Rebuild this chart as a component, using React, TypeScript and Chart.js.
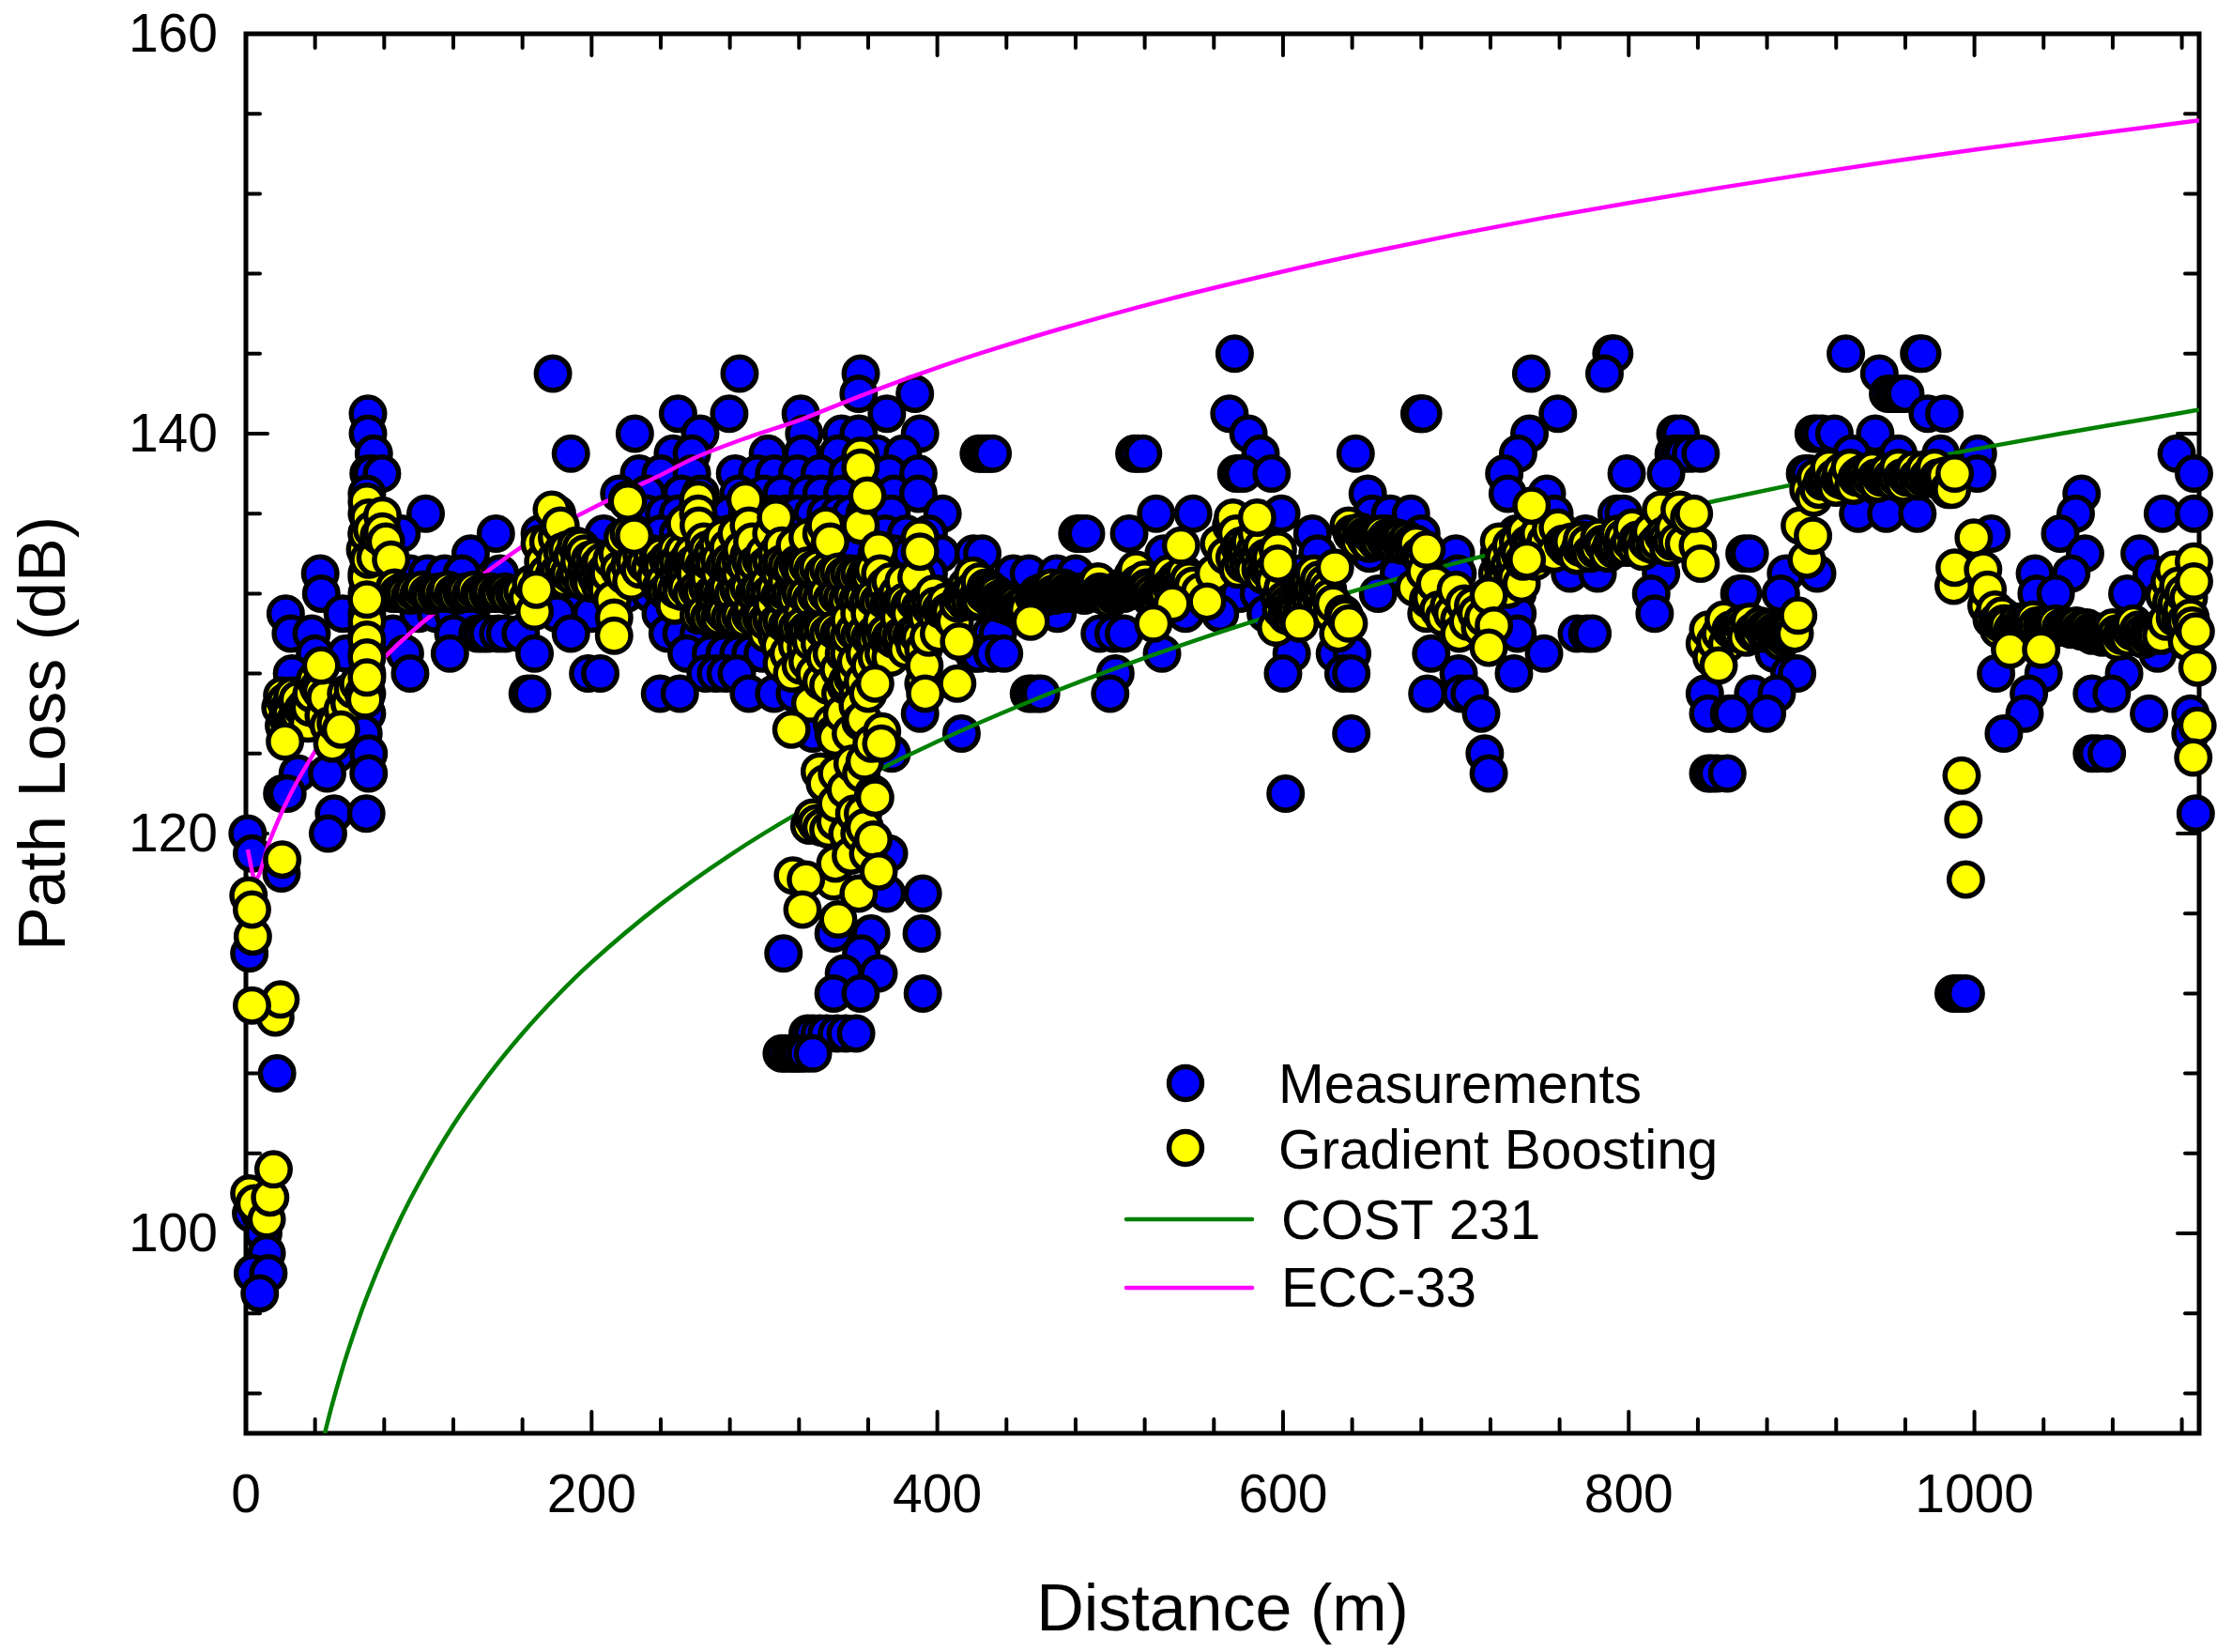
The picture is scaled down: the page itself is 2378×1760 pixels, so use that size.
import React, { useEffect, useRef } from "react";
import { Chart, registerables } from "chart.js";

Chart.register(...registerables);

const FONT = '"Liberation Sans", Arial, sans-serif';

// Measurements: loss level (dB) and the distances (m) measured at that level
const measuredLoss = [144,143,142,141,140,139,138,137,136,135,134,133,132,131,130,129,128,127,126,125,124,123,122,121,120,119,118,117,115,114,113,112,110,109,108,101,100,99,98,97];
const measuredDistances = [
  [572,790,791.6,925.6,968,969.8],
  [177.6,285.6,355.7,743.6,786,945],
  [354.5,387,950,953,955,958,960],
  [70.6,250,279.6,321,370.8,569,679,680,681,759,973,982.6],
  [70.6,225,262.8,323,344.6,354.5,390,580,742.6,827,830,907,909,912,919,942.6],
  [74,188,247,258,302,322,342.6,365,380,424,426,428,430,432,514,516,519,587,642,736,826,829,832,836,841.6,929,956,980.5,1002,1117],
  [71,73,78.7,227.5,240,258,283,296,305.6,319,332,348,360,372,389,573,575,577,593.4,728,798.8,821.6,902,904.6,1001.6,1127],
  [70,216,232,252,263,285,300,310,325,333,345,360,375,389,649,730,752.6,1062],
  [70,104,180,232,242,250,260,270,280,290,298,305,312,319,328,335.5,343,350,358,366,373.5,403,526.6,548,599,651.5,662,674,757,793,797,932.7,949,967,1058.6,1109,1127],
  [70,90,144.6,170,207,225,240,250,260,270,280,290,300,315,330,343,355,370,382,395,481,483,486,511,617,640,660,680,735,775,1009.8,1049.6],
  [70,130,235,245,255,265,275,285,295,305,315,327,340,352,365,375,385,402,421,426,531,620,650,700,725,750,867,870,1064,1095.6],
  [43,70,85,95,105,115,125,147,230,250,270,290,310,330,350,370,395,444,453,469,480,590,610,667,701,766,782,818.7,891,909,1035,1056,1102.6],
  [43.6,70,85,87,89,91,93,95,97,99,101,103,105,107,109,111,113,115,117,119,121,123,125,127,129,131,133,135,137,139,141,143,145,147,149,151,153,155,157,160,180,190,210,220,234,245,260,275,290,305,320,335,350,365,380,400,569,575,586,655,735.6,813,864,866,888,1036,1047,1088.5],
  [23,56,70,100,110,120,130,180,200,240,250,265,285,305,325,345,365,385,405,469.5,543.6,563.5,590,735.6,815],
  [26,38,70,85,120,134,137,140,146,150,159,188,244,252,262,275,283,292,431,435,494,502,508,735.6,770,776,779],
  [40,58,70,92,118,167,255,269,277,285,292,299,315,421,424,432,438.6,530,605,630,640,685.7,751,884,1106],
  [26.7,70,95,198,205,266,272,277.6,284,503,600,635,639.5,701.6,733.6,893,897.4,1012.5,1040,1086.6],
  [70,163,165.6,239.6,251,291,305.6,317.6,453,455,458,460,500,683.5,703,708,844,872,885.6,1031.5,1068,1079.4],
  [70,390,714.6,846,858,860,880,1029,1101,1125],
  [68,328,414,639.5,1017,1125],
  [53,71,373.6,716.7,1068,1071,1076.6],
  [30,47,71,340,719,846,848,851,857],
  [21,24,601.5],
  [51,69.6,1128],
  [1,47.5],
  [3.5,372],
  [20.6],
  [370.8,391.6],
  [340,361.7,391],
  [2,311,356],
  [346,366],
  [340,355.6,391.6,988,990,992,995],
  [325,328,332,336,342,347,353],
  [310,312,315,317,319,321,324,328],
  [18],
  [3,8],
  [10],
  [12],
  [4,13],
  [8],
];

// Gradient Boosting predictions: [distance, path loss]
const boostingNearField = [
  [2,102],[5,101.5],[12,100.7],[14,101.8],[17,110.8],[1.5,116.9],
  [21,126.9],[20,126.3],[23,126.6],[24,125.8],[22,125.4],[26,126],[28,125.6],[29,125.5],[31,125.9],[33,126.2],[35,126.4],[37,126.3],[42,127.3],[40,127.7],[43.5,127.1],[45,125.9],[48,125.4],[50,124.5],[52,125.5],[58,127],[60,126.5],[46,126.8],[38,127],[36,125.5],[30,126.7],[27,126.9],[25,126.3],[56,126.2],[62,127.2],[65,127.5],
  [70,136.6],[71,135.8],[70,135],[69,134.2],[71,133.7],[70,132.8],[70,130.6],[70,129.7],[70,128.8],[68,127],[69,126.7],
  [79,135.9],[79,135.1],[81,134.6],[84,133.7],[77,134.9],[75,133.8],[73,135.2],
];
const boostingFlatBand = [
  [86,132.3],[88,132],[90,132.1],[92,132],[95,131.9],[97,132.1],[100,132],[102,132.2],[105,132],[107,131.9],[110,132],[112,132.1],[115,132],[117,132.2],[120,132],[122,131.9],[125,132],[127,132.1],[130,132],[132,132.2],[135,132],[137,131.9],[140,132],[142,132.1],[145,132],[147,132],[150,132.1],[152,131.9],[155,132],[157,132],[160,132.1],[163,131.8],[165,132.5],[167,131.1],
];
const boostingCluster170 = [
  [170,134.5],[172,133.6],[174,133],[177,136.2],[179,133.7],[180,134.8],[182,135.4],[184,133.2],[186,134.2],[189,133.9],[191,134.4],[193,133.6],[195,132.6],[197,133.2],[199,133.7],[201,133.2],[203,132.8],[205,132.4],[208,133.1],[210,133],[211.6,133.7],[212,131.7],[213,130.8],[215,134],[218,134.8],[220.6,136.7],[221.5,135],
  [171,132.8],[175,134.6],[178,132.9],[181,133.1],[183,134.1],[185,132.7],[187,133],[190,132.8],[192,133],[194,134.3],[196,134],[198,132.7],[200,132.5],[202,133.8],[204,133.4],[206,133.6],[207,132.6],[209,132.2],[216,133.2],[219,132.9],[222,133.4],[223,132.6],
];
const boostingCluster225 = [
  [225,133.6],[228,133.2],[231,133.5],[234,133.3],[237,132.8],[239.6,133.4],[242,132.6],[246,132.1],[248,131.4],[250,133],[252,132.5],[254,135.5],[255,133.2],[258,134],[260,133],[261.7,136.7],[261.7,136],[262,135.4],[263,132],[265,134.6],[266,133.5],[268,132.8],[270,134],[272,131.8],[274,133],[275,131.2],[276,134.8],[278,132.2],[280,133.3],[282,131.6],[284,135],[286,133],[288,132],[289,136.7],[291,133.9],[291,135.4],[293,131.3],[294,133],[296,132.2],[299,130.9],[300,134],[302,132.5],[304,135],[305,131.5],[306.7,135.8],[307,129.9],[309,133],[310,128.5],[311,131.8],[313,132.6],[315,130.4],[317.6,134.4],[318,132],[320,133.3],[322,131],[324,129.3],[325,134.8],[326.5,126.5],[328,133],[330,130.2],[332,129.5],[333,135],[333,127.6],[334,132.5],[335.5,135.4],
];
const boostingCore = [
  [229,133.9],[235,134],[240,133.9],[245,133.7],[249,134.2],[253,134.1],[257,133.5],[267,134.2],[273,134.5],[279,134.3],[287,134.2],[293,134.6],[307,134],[310,134.4],[338,134.6],[363,133.2],[367,133],[373,132.6],
  [301,130],[309,129.4],[314,129],[316,128],[319,129.4],[321,128.4],[323,130],[325,128.6],[327,129.6],[329,128],[335,128.8],[337,127.4],[339,129],[343,128.2],[345,129.8],[347,127.4],[349,129],[351,127.8],[354,127],[357,127.6],[361,128.4],[365,128.8],[369,129],[373,128.8],[379,129.6],[387,129.4],[395,129.8],[401,130],
];
// Dark middle of the cloud: three tightly packed runs of predictions
const boostingCoreUpper = [
  [238,133.6],[241,133.4],[244,133.7],[247,133.5],[250,133.6],[253,133.4],[256,133.7],[259,133.5],[262,133.7],[265,133.4],[268,133.6],[271,133.5],[274,133.7],[277,133.4],[280,133.6],[283,133.5],[286,133.7],[289,133.4],[292,133.6],[295,133.5],[298,133.7],[301,133.4],[304,133.6],[307,133.3],[310,133.5],[313,133.4],[316,133.3],[319,133.5],[322,133.2],[325,133.4],[328,133.2],[331,133.3],[334,133],[337,133.2],[340,133],[343,133.1],[346,132.9],[349,133],[352,132.9],[355,133],[358,132.8],[361,132.9],
];
const boostingCoreMiddle = [
  [240,132.3],[243,132.1],[246,132.4],[249,132.2],[252,132.1],[255,132.3],[258,132],[261,132.2],[264,132.1],[267,132.3],[270,132],[273,132.2],[276,132.1],[279,132.3],[282,132],[285,132.2],[288,132.1],[291,132.3],[294,132],[297,132.2],[300,132.1],[303,132],[306,132.2],[309,131.9],[312,132.1],[315,132],[318,131.8],[321,132],[324,131.9],[327,131.7],[330,131.9],[333,131.8],[336,132],[339,131.7],[342,131.9],[345,131.8],[348,131.7],[351,131.9],[354,131.7],[357,131.8],[360,131.6],[363,131.8],[366,131.6],[369,131.7],[372,131.5],[375,131.7],[378,131.5],[381,131.6],[384,131.4],[387,131.6],[390,131.3],[393,131.5],[396,131.3],[399,131.4],[402,131.2],[405,131.3],[408,130.8],
];
const boostingCoreLower = [
  [262,130.9],[265,131],[268,130.8],[271,130.9],[274,130.8],[277,131],[280,130.8],[283,130.8],[286,130.9],[289,130.7],[292,130.9],[295,130.7],[298,130.8],[301,130.6],[304,130.7],[307,130.5],[310,130.6],[313,130.4],[316,130.5],[319,130.3],[322,130.4],[325,130.2],[328,130.3],[331,130.1],[334,130.2],[337,130],[340,130.2],[343,130],[346,130.1],[349,129.9],[352,130.1],[355,129.9],[358,130],[361,129.8],[364,130],[367,129.9],[370,130],[373,129.8],[376,130],[379,129.9],[382,130],[385,129.9],[388,130],
];
const boostingColumn350 = [
  [316.5,117.9],[326,120.4],[328,120.8],[330,120.5],[332,123.1],[333,120.3],[335,122.5],[337,120.2],[339,125.5],[340,125],[340,117.6],[341,124.8],[341,118.5],[341,120.6],[341.5,121.5],[342,123],[344,127],[345,126],[346,129],[347,122.2],[348,127.6],[348,120],[349,130.7],[350,125],[350,118.9],[351,123.5],[352,128],[352,121],[353,128.6],[354,126.4],[354.5,117],[355,131],[355,120],[355.6,125.6],[355.6,135.4],[355.6,138.9],[356,123],[357,125.7],[357,121],[358,123.6],[358,120.3],[358,129],[359,133],[360,127],[360,119],[361,131],[362,124.5],[363,122],
];
const boostingCluster365 = [
  [364,129.7],[366,134.2],[368,125.1],[368,130.6],[370,132.4],[372,129.6],[374,131.5],[375,129.7],[377,132],[378,130.8],[380,131.5],[380.6,132.6],[382,129.2],[384,131],[386,130],[388,132.8],[390,129.8],[392,131],[392,129.2],[392.5,128.4],[392,127.5],[393,127],[394,130.8],[396,131.7],[398,132],[390,134.8],[400,130.8],[403,131.2],[405,131.6],[406,131.1],[408,131.1],[410,130.6],[415,132],[417,132.4],[420.6,132.9],[423,131.8],[424.6,132.6],[428,132.3],[429.5,132.3],[431,132.1],[433,131.8],[436,131.5],[438,131.7],[441,131.5],[443,131.3],[446,131.2],[449,131],[451,131.5],
  [412,131.5],[414,131.8],[416,131.6],[418,132],[419,131.6],[421,132.2],[422,131.6],[425,131.7],[427,132],[430,131.8],[432,132],[434,132],[435,131.7],[437,131.8],[439,131.6],[440,131.4],[442,131.5],[444,131.4],[445,131.5],[447,131.3],[448,131.3],[450,131.2],[452,131.2],[456,131.8],
];
const boostingBand460 = [
  [458,132],[460,132],[462,131.8],[464,132],[466,132.3],[468,131.9],[471,132],[473,132.3],[475,132.1],[478,132],[480,132],[482,132.1],[485,131.9],[488,132.2],[491,132.4],[493,132.6],[495,132],[497,132],[500,131.7],[503,132],[506.5,132.3],[510,132.5],[513,132.9],[515,133.2],[518,132.2],[520,132.7],[522,132.2],[527,131.2],[529,132],[531,132.7],[534,133],[538,132.7],[543,133],[545.6,132.7],[548,132.4],[552,132.1],
  [459,131.8],[461,132.1],[463,132],[465,132.1],[467,132],[469,132],[470,132],[472,132.1],[474,132],[476,132],[477,132.1],[479,132],[481,132],[483,132],[484,132],[486,132],[487,132],[489,132.1],[490,132.1],[492,132.1],[494,132.1],[496,131.9],[498,131.9],[499,132],[501,132],[502,131.9],[504,132.1],[505,132],[507,132.1],[508,132],[509,132.2],[511,132.3],[512,132.5],[514,132.6],[516,132.5],[517,132.4],[519,132.4],[521,132.3],[523,131.8],[524,132],[526,131.8],[528,131.6],[530,132.2],[532,132.4],[533,132],[535,132.4],[537,132.2],[539,132.1],[540,132.8],[542,132.5],[544,132.4],
];
const boostingCluster560 = [
  [560,133],[563,134.5],[567,133.9],[570,135.4],[571,135.8],[573,135],[575,134.3],[577,133.5],[579,134],[582,133.8],[585,135],[587,133.2],[590,133.8],[592,133.5],[594,133.1],[596,130.3],[597,134.2],[600,132.3],[603,131.5],[605,130.8],[607,131.6],[612,131.9],[615,132.5],[618,133],[621,132.7],[624,132.5],[627,131.8],[629,131.5],[632,130],[635,131],[636,130.8],
  [572,133.8],[574,133.2],[576,134.4],[578,134.2],[580,133.5],[581,134.6],[583,133.2],[584,134.2],[586,133.9],[588,134.3],[589,132.9],[591,133.2],[593,133.8],[595,132.6],[598,131.8],[599,131.2],[601,131.7],[602,130.9],[604,131.2],[606,131.1],[608,131.2],[610,132],[611,131.2],[613,131.5],[614,132],[616,131.7],[617,132.2],[619,131.7],[620,132.2],[622,131.8],[623,132],[625,131.4],[626,132.2],[628,131],
];
const boostingBand640 = [
  [638,135.4],[642,135],[645,135.1],[648,134.7],[651,134.9],[654,134.6],[657,135],[660,134.8],[663,134.5],[666,134.8],[669,134.4],[672,134.7],[675,134.3],[677,134.5],[679,133.9],[681,133.8],
  [640,135],[644,134.6],[647,134.9],[650,134.5],[653,134.8],[656,134.6],[659,134.7],[662,134.7],[665,134.5],[668,134.7],[671,134.4],[674,134.5],
  [676,132.3],[682,133.1],[683,131],[684,131.7],[686,131.8],[688,132.5],[690,131.2],[693,130.8],[696,131.4],[698,131],[700,132.2],[702,130.7],[702,130],[705,131.5],[707,130.6],[710,131.4],[712,131],[714,130.3],[716,130.8],
];
const boostingCluster725 = [
  [724,133],[725,134.6],[726,132.5],[728,133.8],[730,132.2],[731,133.4],[733,133],[735,132.8],[737,134],[738,132.5],[740,135.1],[744,134.5],[746,133.6],[748,135],[750,134.2],[752,134.6],[755,135.2],[757,134],[759,135.3],
  [727,133.4],[729,132.8],[732,134.4],[734,133.8],[736,134.6],[739,133.6],[742,134.5],[745,133.9],[747,134.6],[749,134],
  [762,134.5],[764,134.3],[767,134.6],[770,133.9],[773,134.7],[776,134.5],[778,134],[780.7,134.2],[783,134.8],[786,134.4],[788,134],[791.5,134.2],[794,135],[797,134.8],[799,134.3],[802,135.3],[805,134.7],[808,134.1],[810.5,134.6],[813,135.1],[815,134.4],[818.7,136.2],[820,134.9],[823,134.3],[826,135.3],[829.5,136.2],[832,134.5],[835,135.8],[840,134.4],
  [765,134.5],[772,134.3],[775,134.2],[782,134.3],[785,134.5],[790,134.4],[793,134.4],[796,134.4],[801,134.6],[804,134.3],[807,134.6],[812,134.5],[817,134.6],[822,134.7],[825,134.6],[828,134.6],
];
const boostingBand850 = [
  [844,129.5],[846,130.2],[848,128.8],[850,129.6],[853,130],[855,130.7],[857,129.5],[859,130.2],[862,130],[865,130.5],[868,129.8],[870,130.6],[873,130],[876,130.4],[879,130],[882,130.3],[885,129.9],[888,129.6],[890,129.8],[892,130.2],[895,130.4],[896,130],
  [861,130.1],[864,130.1],[867,130.3],[872,130.1],[875,130],[878,130.2],[881,130],[884,130.1],[887,130],[889,130.1],[891,130],[894,130],
];
const boostingBand905 = [
  [899,135.4],[903,133.7],[904,137.2],[907,136.8],[908,137.8],[910,137.2],[912,137.6],[915,137.9],[916,138.3],[918,137.5],[920,137.3],[923,138.1],[925,137.6],[928,138.3],[930,137.4],[933,137.9],[935,138],[938,137.6],[941,138.2],[944,137.5],[947,137.8],[950,138.1],[953,137.6],[956,138.3],[959,137.5],[962,137.9],[965,138.2],[968,137.6],[971,138.2],[974,137.9],[977,138.3],[980,137.6],[983,137.9],[985,137.2],[987,137.2],
  [914,137.6],[919,137.8],[922,137.7],[926,137.8],[932,137.8],[936,137.8],[940,137.8],[943,137.8],[946,137.8],[949,137.8],[952,137.8],[955,137.8],[958,137.8],[961,137.8],[964,137.8],[967,137.8],[970,137.8],[973,137.8],[976,137.9],[979,137.8],[982,137.7],
];
const boostingBand1010 = [
  [988.6,133.3],[988,132.4],[1005,133.2],[1007.6,132.2],[1007,131.4],[1010,130.7],[1012,131.2],[1014,130.2],[1016,130.9],[1018,130.5],[1022,130.2],[1025,130.6],[1028,130.5],[1031,130.3],[1034,130.7],[1036,130.4],[1041,130.4],[1044,130.3],[1047,130.5],[1050,130.3],[1053,130.4],[1056,130.2],[1059,130.4],[1062,130.1],[1065,130.3],[1068,129.9],[1071,130.1],[1074,129.8],[1077,130],[1080,130.3],[1083,129.6],[1086,130.1],[1089,129.8],[1092,130.5],[1095,130.2],[1098,129.7],[1101,130.1],[1105,129.9],[1108,129.9],[1110,131.9],[1111,130.6],[1113,132.6],[1115.6,133.2],[1117,131.5],[1119,130.7],[1121,132],[1123,129.6],[1125,130.8],[1127,133.6],
  [1013,130.6],[1015,130.5],[1017,130.5],[1019,130.4],[1024,130.4],[1027,130.4],[1030,130.4],[1033,130.4],[1039,130.4],[1043,130.4],[1046,130.4],[1052,130.3],[1055,130.3],[1058,130.3],[1061,130.2],[1064,130.2],[1067,130.1],[1070,130],[1073,130],[1076,129.9],[1079,130],[1082,130],[1085,129.9],[1088,130],[1091,130.1],[1094,130],[1097,130],[1100,129.9],[1103,130],[1114,131.6],[1116,130.8],[1118,132.4],[1120,131.2],[1122,130.6],[1124,131.8],[1126,130.4],
];
// The discs that sit on top of the others in the picture
const boostingOnTop = [
  [16,103.2],[21,118.7],[4,114.85],[3.5,116.2],[20,111.7],[3.5,111.4],[70,131.7],[70,127.8],[43.5,128.4],[55,125.2],[22.6,124.6],[168,132.2],[213,129.9],[221,136.6],[224.6,134.9],
  [355.6,138.3],[359.5,136.9],[390,134.1],[412.6,129.6],[411.5,127.5],[364,127.5],[315.6,125.2],[367.6,124.5],[364,121.8],[363,119.7],[366,118.1],[324,117.7],[342.6,115.7],[322,116.2],
  [541,134.4],[556,131.6],[536,131.5],[525,130.5],[454,130.6],[597,133.5],[630,133.3],[609.6,130.5],[638,130.5],[585,135.8],
  [683,134.2],[719,131.9],[722,130.4],[719,129.3],[743.8,136.4],[741,133.7],
  [837.7,136],[841.6,133.5],[852,128.4],[898,130.9],[906.6,134.9],[988.6,138],[999.6,134.8],[992.6,122.9],[993.6,120.7],[995,117.7],
  [1020.6,129.2],[1038.6,129.2],[1127,132.6],[1128,130.1],[1129,128.3],[1129,125.4],[1126.6,123.8],
];

// Reference curves
const cost231Distance = [45.6,50,55,60,65,70,80,90,100,120,140,160,180,200,240,280,320,360,400,450,500,550,600,650,700,750,800,850,900,950,1000,1050,1100,1130];
const cost231Loss = [90,91.47,92.99,94.37,95.65,96.83,98.95,100.83,102.5,105.42,107.87,110,111.88,113.56,116.46,118.92,121.05,122.92,124.6,126.48,128.16,129.68,131.07,132.35,133.53,134.63,135.66,136.63,137.54,138.4,139.22,140,140.74,141.2];
const ecc33Distance = [1,5.4,13.6,22,29,38.5,50,60,79,100,110,125,141,159,175,192,208,227,238,260,290,321,350,387,410,433,470,530,596,650,700,750,800,850,900,950,1000,1050,1100,1130];
const ecc33Loss = [119.2,117.7,119.6,121.3,122.5,123.9,125.5,126.8,128.7,130.4,131.1,132.2,133.2,134.3,135.1,135.9,136.6,137.4,137.85,138.8,139.8,140.7,141.7,142.9,143.6,144.24,145.21,146.64,148.03,149.07,149.96,150.78,151.54,152.26,152.94,153.59,154.2,154.77,155.33,155.67];

const xTickLabels = [0, 200, 400, 600, 800, 1000];
const yTickLabels = [100, 120, 140, 160];

const measuredPoints = measuredLoss.flatMap((loss, i) =>
  measuredDistances[i].map((d) => ({ x: d, y: loss }))
);
// Painted left to right, as in the picture; the discs that stay whole come last
const boostingPoints = [
  ...[
    ...boostingNearField, ...boostingFlatBand, ...boostingCluster170, ...boostingCluster225,
    ...boostingCore, ...boostingCoreUpper, ...boostingCoreMiddle, ...boostingCoreLower,
    ...boostingColumn350, ...boostingCluster365, ...boostingBand460,
    ...boostingCluster560, ...boostingBand640, ...boostingCluster725, ...boostingBand850,
    ...boostingBand905, ...boostingBand1010,
  ].sort((a, b) => a[0] - b[0]),
  ...boostingOnTop,
].map(([x, y]) => ({ x, y }));
const curve = (xs: number[], ys: number[]) => xs.map((x, i) => ({ x, y: ys[i] }));

const framePlugin = {
  id: "frameAndTicks",
  beforeDatasetsDraw(chart: any) {
    const { ctx, chartArea: a, scales } = chart;
    ctx.save();
    ctx.strokeStyle = "#000";
    ctx.lineWidth = 5;
    ctx.lineJoin = "miter";
    ctx.strokeRect(a.left, a.top, a.right - a.left, a.bottom - a.top);
    ctx.lineWidth = 4;
    ctx.lineCap = "round";
    const seg = (x1: number, y1: number, x2: number, y2: number) => {
      ctx.beginPath();
      ctx.moveTo(x1, y1);
      ctx.lineTo(x2, y2);
      ctx.stroke();
    };
    for (const t of scales.x.ticks) {
      const px = scales.x.getPixelForValue(t.value);
      const len = xTickLabels.includes(t.value) ? 23 : 15;
      seg(px, a.bottom, px, a.bottom - len);
      seg(px, a.top, px, a.top + len);
    }
    for (const t of scales.y.ticks) {
      const py = scales.y.getPixelForValue(t.value);
      const len = yTickLabels.includes(t.value) ? 23 : 15;
      seg(a.left, py, a.left + len, py);
      seg(a.right, py, a.right - len, py);
    }
    ctx.restore();
  },
};

const legendPlugin = {
  id: "plotLegend",
  afterDraw(chart: any) {
    const { ctx } = chart;
    const rows = [
      { i: 0, yMark: 1154, yText: 1175, xText: 1362 },
      { i: 1, yMark: 1223, yText: 1245, xText: 1362 },
      { i: 2, yMark: 1299, yText: 1320, xText: 1365 },
      { i: 3, yMark: 1372, yText: 1392, xText: 1365 },
    ];
    ctx.save();
    ctx.font = `58.5px ${FONT}`;
    ctx.textBaseline = "alphabetic";
    ctx.textAlign = "left";
    for (const r of rows) {
      const ds = chart.data.datasets[r.i];
      if (ds.showLine) {
        ctx.strokeStyle = ds.borderColor;
        ctx.lineWidth = 4.5;
        ctx.lineCap = "round";
        ctx.beginPath();
        ctx.moveTo(1200, r.yMark);
        ctx.lineTo(1334, r.yMark);
        ctx.stroke();
      } else {
        ctx.fillStyle = ds.pointBackgroundColor;
        ctx.strokeStyle = "#000";
        ctx.lineWidth = 5.5;
        ctx.beginPath();
        ctx.arc(1263, r.yMark, 17.5, 0, Math.PI * 2);
        ctx.fill();
        ctx.stroke();
      }
      ctx.fillStyle = "#000";
      ctx.fillText(ds.label, r.xText, r.yText);
    }
    ctx.restore();
  },
};

export default function App() {
  const ref = useRef<HTMLCanvasElement>(null);
  useEffect(() => {
    const marker = {
      showLine: false,
      pointRadius: 17.75,
      pointBorderWidth: 5.5,
      pointBorderColor: "#000",
      pointStyle: "circle",
      clip: false as const,
    };
    const line = {
      showLine: true,
      pointRadius: 0,
      borderWidth: 4.5,
      cubicInterpolationMode: "monotone" as const,
    };
    const chart = new Chart(ref.current!, {
      type: "scatter",
      data: {
        datasets: [
          { label: "Measurements", data: measuredPoints, pointBackgroundColor: "#0000FF", order: 4, ...marker },
          { label: "Gradient Boosting", data: boostingPoints, pointBackgroundColor: "#FFFF00", order: 1, ...marker },
          { label: "COST 231", data: curve(cost231Distance, cost231Loss), borderColor: "#008000", order: 3, ...line },
          { label: "ECC-33", data: curve(ecc33Distance, ecc33Loss), borderColor: "#FF00FF", order: 2, ...line },
        ],
      },
      options: {
        animation: false,
        responsive: false,
        devicePixelRatio: 1,
        layout: { padding: { top: 36, right: 35, bottom: 0, left: 0 } },
        plugins: { legend: { display: false }, tooltip: { enabled: false } },
        scales: {
          x: {
            type: "linear",
            min: 0,
            max: 1130,
            afterFit: (s: any) => { s.height = 233; s.paddingLeft = 0; s.paddingRight = 0; },
            grid: { display: false },
            border: { display: false },
            title: {
              display: true,
              text: "Distance (m)",
              color: "#000",
              font: { family: FONT, size: 70 },
              padding: { top: 0, bottom: 0 },
            },
            ticks: {
              stepSize: 40,
              includeBounds: false,
              autoSkip: false,
              maxRotation: 0,
              padding: 26,
              color: "#000",
              font: { family: FONT, size: 57 },
              callback: (v: any) => (xTickLabels.includes(v) ? String(v) : ""),
            },
          },
          y: {
            type: "linear",
            min: 90,
            max: 160,
            afterFit: (s: any) => { s.width = 262; s.paddingTop = 0; s.paddingBottom = 0; },
            grid: { display: false },
            border: { display: false },
            title: {
              display: true,
              text: "Path Loss (dB)",
              color: "#000",
              font: { family: FONT, size: 70 },
              padding: { top: 8, bottom: 0 },
            },
            ticks: {
              stepSize: 4,
              includeBounds: false,
              autoSkip: false,
              padding: 22,
              labelOffset: 3,
              color: "#000",
              font: { family: FONT, size: 57 },
              callback: (v: any) => (yTickLabels.includes(v) ? String(v) : ""),
            },
          },
        },
      },
      plugins: [framePlugin, legendPlugin],
    } as any);
    return () => chart.destroy();
  }, []);
  return (
    <canvas
      ref={ref}
      width={2378}
      height={1760}
      style={{ position: "fixed", left: 0, top: 0, display: "block", background: "#fff" }}
    />
  );
}
